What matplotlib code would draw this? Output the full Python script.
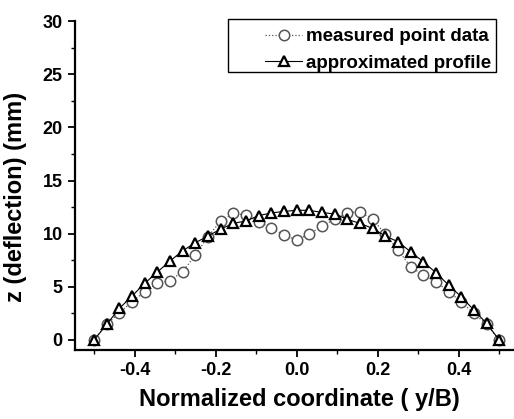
import matplotlib
matplotlib.use("Agg")
import matplotlib.pyplot as plt
import numpy as np
from matplotlib.ticker import MultipleLocator
from matplotlib.patches import Rectangle

plt.rcParams['font.family'] = ['Liberation Sans', 'DejaVu Sans']

n_points = 33
x_coord = np.linspace(-0.5, 0.5, n_points)
measured = [0.0, 1.5, 2.57, 3.6, 4.55, 5.33, 5.58, 6.43, 8.0, 9.72, 11.2, 11.9,
            11.76, 11.13, 10.55, 9.88, 9.4, 9.97, 10.72, 11.35, 11.97, 12.07,
            11.35, 9.97, 8.47, 6.9, 6.1, 5.49, 4.55, 3.6, 2.5, 1.48, 0.0]
approx = [0.0, 1.48, 2.98, 4.14, 5.33, 6.4, 7.43, 8.4, 9.15, 9.78, 10.44, 10.97,
          11.2, 11.7, 11.95, 12.1, 12.2, 12.2, 12.0, 11.85, 11.35, 10.97,
          10.5, 9.78, 9.25, 8.3, 7.37, 6.33, 5.17, 4.07, 2.82, 1.57, 0.0]

fig = plt.figure(figsize=(5.14, 4.19), dpi=100)
ax = fig.add_axes([0.146, 0.1647, 0.852, 0.785])

ax.plot(x_coord, measured, linestyle=':', color='#555555', linewidth=0.9,
        marker='o', markersize=7.5, markerfacecolor='white',
        markeredgecolor='#555555', markeredgewidth=1.1, label='measured point data')
ax.plot(x_coord, approx, linestyle='-', color='black', linewidth=0.8,
        marker='^', markersize=7.5, markerfacecolor='white',
        markeredgecolor='black', markeredgewidth=1.6, label='approximated profile')

ax.set_xlim(-0.547, 0.534)
ax.set_ylim(-0.94, 30)
ax.xaxis.set_minor_locator(MultipleLocator(0.1))
ax.yaxis.set_minor_locator(MultipleLocator(2.5))
ax.set_xticks([-0.4, -0.2, 0.0, 0.2, 0.4])
ax.set_xticklabels(['-0.4', '-0.2', '0.0', '0.2', '0.4'])
ax.set_yticks([0, 5, 10, 15, 20, 25, 30])

for s in ['top', 'right']:
    ax.spines[s].set_visible(False)
for s in ['left', 'bottom']:
    ax.spines[s].set_linewidth(1.6)

ax.tick_params(which='major', direction='out', length=5, width=1.3,
               labelsize=13, pad=4)
ax.tick_params(which='minor', direction='out', length=3, width=1.0)
for lab in ax.get_xticklabels() + ax.get_yticklabels():
    lab.set_fontweight('bold')

ax.set_xlabel('Normalized coordinate ( y/B)', fontsize=17, fontweight='bold',
              labelpad=6)
ax.xaxis.label.set_x(0.512)
ax.set_ylabel('z (deflection) (mm)', fontsize=17, fontweight='bold')
ax.yaxis.set_label_coords(-0.11, 0.465)

leg = ax.legend(loc='upper right', bbox_to_anchor=(0.963, 0.995), frameon=False,
                handlelength=2.0, handletextpad=0.2, borderpad=0.3,
                labelspacing=0.5, borderaxespad=0.0,
                prop={'weight': 'bold', 'size': 13.5})

# legend frame (wider on the left, as in the original)
frame = Rectangle((0.3485, 0.845), 0.613, 0.161, transform=ax.transAxes,
                  facecolor='none', edgecolor='black', linewidth=1.0,
                  clip_on=False, zorder=4)
ax.add_patch(frame)

fig.savefig('out.png', dpi=100)
